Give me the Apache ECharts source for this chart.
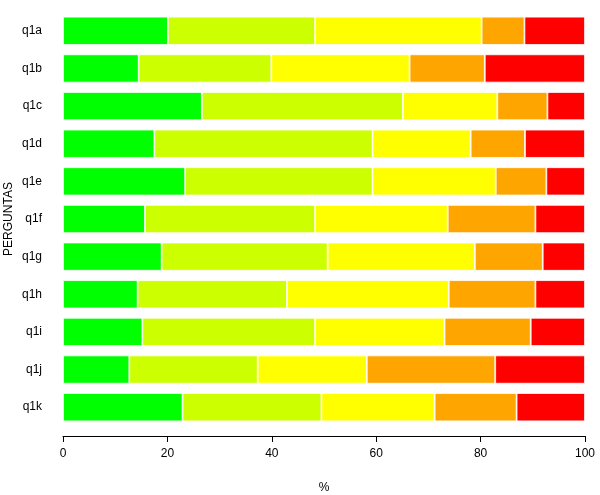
<!DOCTYPE html>
<html>
<head>
<meta charset="utf-8">
<title>Perguntas</title>
<script src="https://cdn.jsdelivr.net/npm/echarts@6/dist/echarts.min.js"></script>
<style>
  html, body { margin: 0; padding: 0; background: #fff; }
</style>
</head>
<body>
<div id="chart_con" style="width:600px;height:495px;"></div>
<script>
// perguntas (de cima para baixo)
var perguntas = ['q1a', 'q1b', 'q1c', 'q1d', 'q1e', 'q1f', 'q1g', 'q1h', 'q1i', 'q1j', 'q1k'];

// percentagens por nivel de resposta
var nivel1 = [20.1, 14.5, 26.6, 17.5, 23.4, 15.7, 18.9, 14.3, 15.2, 12.7, 22.9];
var nivel2 = [28.2, 25.4, 38.5, 41.8, 35.9, 32.6, 31.8, 28.6, 33.1, 24.6, 26.6];
var nivel3 = [31.9, 26.5, 18.1, 18.8, 23.6, 25.4, 28.2, 31.0, 24.8, 20.9, 21.7];
var nivel4 = [8.2, 14.4, 9.6, 10.4, 9.7, 16.8, 13.0, 16.6, 16.5, 24.6, 15.7];
var nivel5 = [11.6, 19.2, 7.2, 11.5, 7.4, 9.5, 8.1, 9.5, 10.4, 17.2, 13.1];

var niveis = [nivel1, nivel2, nivel3, nivel4, nivel5];
var cores = ['#00ff00', '#ccff00', '#ffff00', '#ffa500', '#ff0000'];

var chart = echarts.init(document.getElementById('chart_con'));

var series = niveis.map(function (dados, i) {
    return {
        name: 'nivel' + (i + 1),
        type: 'bar',
        stack: 'total',
        data: dados,
        barCategoryGap: '25%',
        itemStyle: {color: cores[i], borderColor: '#ffffff', borderWidth: 0.8},
        emphasis: {disabled: true}
    };
});

var fonte = {fontFamily: 'Liberation Sans, Arial, sans-serif', fontSize: 12, color: '#000'};

var option = {
    animation: false,
    textStyle: fonte,
    grid: {left: 63, right: 15, top: 12, bottom: 69, outerBoundsMode: 'none'},
    xAxis: {
        type: 'value',
        min: 0,
        max: 100,
        interval: 20,
        offset: 10,
        name: '%',
        nameLocation: 'middle',
        nameGap: 46,
        nameMoveOverlap: false,
        nameTextStyle: fonte,
        axisLine: {show: true, lineStyle: {color: '#000', width: 1}},
        axisTick: {show: true, length: 6, lineStyle: {color: '#000'}},
        axisLabel: Object.assign({margin: 12}, fonte),
        splitLine: {show: false}
    },
    yAxis: {
        type: 'category',
        data: perguntas,
        inverse: true,
        name: 'PERGUNTAS',
        nameLocation: 'middle',
        nameGap: 48,
        nameRotate: 90,
        nameMoveOverlap: false,
        nameTextStyle: fonte,
        axisLine: {show: false},
        axisTick: {show: false},
        axisLabel: Object.assign({margin: 21}, fonte)
    },
    series: series
};

chart.setOption(option);
window.addEventListener('resize', function () {
    chart.resize();
});
</script>
</body>
</html>
